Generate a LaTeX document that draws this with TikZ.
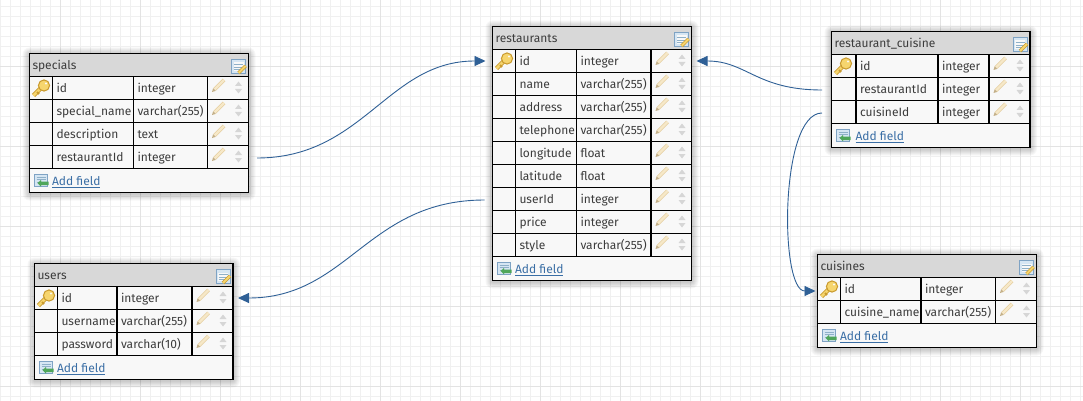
\documentclass[tikz,border=0pt]{standalone}
\usepackage{fontspec}
\setmainfont{Fira Sans}
\usetikzlibrary{arrows.meta}
\definecolor{headgray}{HTML}{D8D8D8}
\definecolor{rowgray}{HTML}{F8F8F8}
\definecolor{textgray}{HTML}{3C3C3C}
\definecolor{linkblue}{HTML}{3A6EA5}
\definecolor{relblue}{HTML}{2F6096}
\definecolor{keyedge}{HTML}{C99A2E}
\definecolor{keyfill}{HTML}{F6D56E}
\definecolor{penedge}{HTML}{E6CFA0}
\definecolor{penfill}{HTML}{F6E8C8}
\definecolor{sortgray}{HTML}{D6D6D6}
\definecolor{iconedge}{HTML}{7FA3C4}
\definecolor{iconfill}{HTML}{D6E6F3}
\definecolor{iconline}{HTML}{8FB0C8}
\definecolor{addgreen}{HTML}{4FA65A}
\tikzset{
    cellbox/.style={draw=black,line width=1.1pt,fill=rowgray,anchor=north west,outer sep=0pt,
                    inner ysep=0pt,inner xsep=4pt,minimum height=23pt,text height=11.5pt,text depth=2pt,
                    align=left,text=textgray,font=\fontsize{12}{15}\selectfont},
    relation/.style={draw=relblue,line width=0.9pt,-{Triangle[length=11pt,width=10pt]}},
    keyicon/.pic={
        \draw[line width=4.4pt,draw=keyedge] (-7.5,7.5) -- (1,-1);
        \draw[line width=2.6pt,draw=keyfill] (-7.5,7.5) -- (1,-1);
        \draw[line width=2pt,draw=keyedge] (-4,4) -- (-2,6);
        \draw[line width=1pt,draw=keyedge,fill=keyfill] (3,-2.5) circle (5.6);
        \fill[rowgray] (5,-4.5) circle (1.2);
    },
    penicon/.pic={
        \draw[line width=3.8pt,draw=penedge] (-4,4) -- (5.5,-5.5);
        \draw[line width=2.2pt,draw=penfill] (-4,4) -- (5.5,-5.5);
        \fill[penedge!85!black] (-6.5,6.5) -- (-5.4,2.8) -- (-2.8,5.4) -- cycle;
    },
    sorticon/.pic={
        \fill[sortgray] (-3.5,-1.5) -- (0,-6) -- (3.5,-1.5) -- cycle;
        \fill[sortgray] (-3.5,1.5) -- (0,6) -- (3.5,1.5) -- cycle;
    },
    editicon/.pic={
        \draw[draw=iconedge,fill=iconfill,line width=0.9pt] (-7,-7) rectangle (7,7);
        \fill[rowgray] (-5,-3.5) rectangle (5,5);
        \foreach \ly in {-1.5,1,3.5}
            \draw[iconline,line width=0.7pt] (-4.5,\ly) -- (4.5,\ly);
        \draw[line width=3.4pt,draw=keyedge] (0,7) -- (7,0);
        \draw[line width=1.8pt,draw=keyfill] (0,7) -- (7,0);
    },
    addicon/.pic={
        \draw[draw=iconedge,fill=iconfill,line width=0.9pt] (-7,-6.5) rectangle (6,5.5);
        \foreach \ly in {-3.5,-1,1.5}
            \draw[iconline,line width=0.7pt] (-5,\ly) -- (4,\ly);
        \fill[addgreen] (-4,2.5) -- (-0.5,-0.5) -- (-0.5,1) -- (7,1) -- (7,4.5) -- (-0.5,4.5) -- (-0.5,6) -- cycle;
    },
}
% name, title, corner, column widths, fields
\newcommand{\dbtable}[8]{
\begin{scope}[shift={(#3)}]
    \foreach \fname [count=\n] in {#8} {\global\let\rowcount\n}
    \pgfmathsetmacro{\tablew}{#4+#5+#6+#7}
    \pgfmathsetmacro{\tableh}{47+23*\rowcount}
    \foreach \k in {1,...,7}
        \fill[black,opacity=.03,rounded corners=\k pt] (-\k,1-\k) rectangle (\tablew+\k,\tableh+1+\k);
    \node[cellbox,minimum width=\tablew pt,minimum height=\tableh pt] (#1) at (0,0) {};
    \node[cellbox,fill=headgray,minimum width=\tablew pt,text width=\tablew pt-6pt,inner xsep=3pt] (#1-title) at (0,0) {#2};
    \pic at (\tablew-10,12.5) {editicon};
    \foreach \fname/\ftype [count=\i, evaluate=\i as \y using 23*\i] in {#8} {
        \node[cellbox,minimum width=#4 pt] (#1-key-\i) at (0,\y) {};
        \node[cellbox,text width=#5pt-8pt] (#1-name-\i) at (#4,\y) {\fname};
        \node[cellbox,text width=#6pt-8pt] (#1-type-\i) at (#4+#5,\y) {\ftype};
        \node[cellbox,minimum width=#7 pt] (#1-tool-\i) at (#4+#5+#6,\y) {};
        \ifnum\i=1 \pic at (11.5,\y+11.5) {keyicon}; \fi
        \pic at (#4+#5+#6+11,\y+9) {penicon};
        \pic at (#4+#5+#6+31,\y+11) {sorticon};
    }
    \pic at (12,\tableh-12) {addicon};
    \node[anchor=west,inner sep=0pt,outer sep=0pt,text=linkblue,font=\fontsize{12}{15}\selectfont] (#1-add) at (#4-0.5,\tableh-10.5) {\underline{Add field}};
\end{scope}
}

\begin{document}
\begin{tikzpicture}[x=1pt,y=-1pt]
\useasboundingbox (0,0) rectangle (1083,401);
\fill[white] (0,0) rectangle (1083,401);
% grid
\foreach \gx in {0,10,...,1080}
    \draw[black!6,line width=0.7pt] (\gx,0) -- (\gx,401);
\foreach \gy in {6,16,...,396}
    \draw[black!6,line width=0.7pt] (0,\gy) -- (1083,\gy);
\foreach \gx in {60,140,...,1020}
    \draw[black!11,line width=0.7pt] (\gx,0) -- (\gx,401);
\foreach \gy in {66,146,226,306,386}
    \draw[black!11,line width=0.7pt] (0,\gy) -- (1083,\gy);

\dbtable{specials}{specials}{29.5,53.5}{23}{81}{74}{41}
    {id/integer,special\_name/varchar(255),description/text,restaurantId/integer}
\dbtable{restaurants}{restaurants}{492.5,26.5}{23}{61}{74.5}{40.5}
    {id/integer,name/varchar(255),address/varchar(255),telephone/varchar(255),longitude/float,latitude/float,userId/integer,price/integer,style/varchar(255)}
\dbtable{rcuisine}{restaurant\_cuisine}{831.5,31.5}{24.5}{82}{51}{41}
    {id/integer,restaurantId/integer,cuisineId/integer}
\dbtable{users}{users}{34.5,263.5}{23}{59.5}{75}{41}
    {id/integer,username/varchar(255),password/varchar(10)}
\dbtable{cuisines}{cuisines}{817.5,254.5}{23}{80.5}{74.5}{41}
    {id/integer,cuisine\_name/varchar(255)}

\draw[relation,shorten <=8.5pt,shorten >=7pt] ([yshift=-1pt]specials-tool-4.east)
    .. controls +(115,0) and +(-105,0) .. (restaurants-key-1.west);
\draw[relation,shorten <=8pt,shorten >=5pt] ([yshift=-1pt]restaurants-key-7.west)
    .. controls +(-125,0) and +(115,0) .. (users-tool-1.east);
\draw[relation,shorten <=9.5pt,shorten >=5pt] ([yshift=-1pt]rcuisine-key-2.west)
    .. controls +(-75,0) and +(55,0) .. (restaurants-tool-1.east);
\draw[relation,shorten <=9.5pt,shorten >=2pt] ([yshift=-1pt]rcuisine-key-3.west)
    .. controls +(-52,0) and +(-38,0) .. ([yshift=-2pt]cuisines-key-1.west);
\end{tikzpicture}
\end{document}
